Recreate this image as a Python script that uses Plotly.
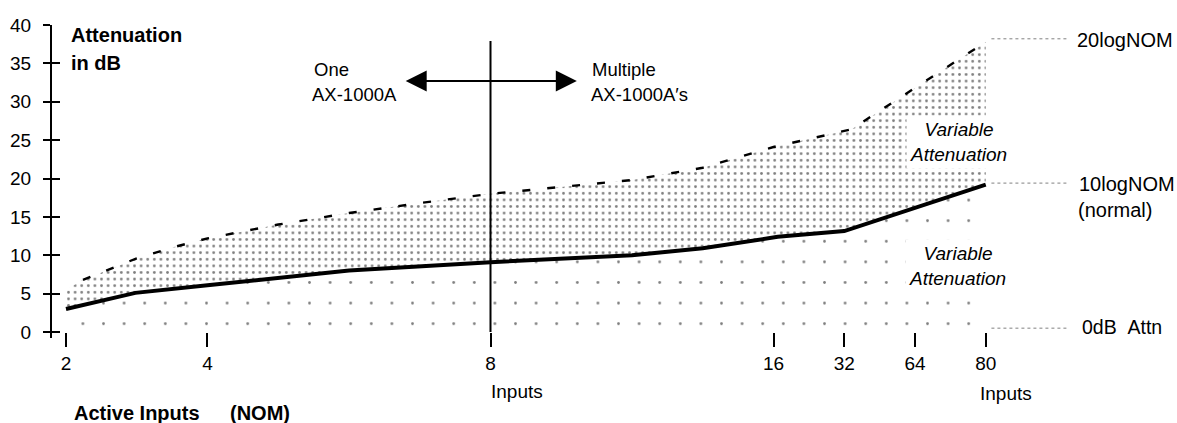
import plotly.graph_objects as go

# ---------------- data ----------------
input_ticks = [2, 4, 8, 16, 32, 64, 80]            # active inputs (NOM) tick labels
input_tick_pos = [0, 1, 3, 5, 5.5, 6, 6.5]         # where each sits on the drawn (piecewise) input axis
db_ticks = [0, 5, 10, 15, 20, 25, 30, 35, 40]

# 10logNOM (normal attenuation) curve: axis position, dB
normal_pos = [0, 0.49, 1.0, 2.0, 3.0, 4.0, 4.5, 5.03, 5.5, 6.5]
normal_db = [3.0, 5.1, 6.1, 8.0, 9.1, 10.0, 10.9, 12.4, 13.15, 19.2]

# 20logNOM (maximum attenuation) curve: axis position, dB
max_pos = [0, 0.12, 0.33, 0.5, 0.75, 1.0, 1.5, 2.0, 2.5, 3.0, 3.5, 4.0, 4.5, 5.0, 5.55, 6.0, 6.5]
max_db = [5.5, 6.8, 8.3, 9.6, 11.0, 12.2, 14.0, 15.5, 16.8, 18.0, 18.9, 19.8, 21.4, 24.1, 26.4, 31.8, 37.8]

# ---------------- layout constants ----------------
W, H = 1177, 423
ML, MR, MT, MB = 52, 0, 25, 85
X_RANGE = [-0.0989, 7.8516]
Y_RANGE = [-0.782, 40]
FONT = "Liberation Sans, Arial, Helvetica, sans-serif"
FS = 19

divider_x = input_tick_pos[input_ticks.index(8)]
end_x = input_tick_pos[-1]
LEADER_END = 7.08
LABEL_X = 7.14


def py(v):
    """dB value -> paper fraction (so annotations below the axis are still drawn)"""
    return (v - Y_RANGE[0]) / (Y_RANGE[1] - Y_RANGE[0])


fig = go.Figure()

# sparse dots: 0 dB .. 10logNOM
fig.add_trace(go.Scatter(
    x=normal_pos, y=normal_db, mode="lines", line=dict(width=0, color="black"),
    fill="tozeroy", fillcolor="rgba(0,0,0,0)",
    fillpattern=dict(shape=".", fgcolor="black", bgcolor="rgba(0,0,0,0)", size=20.6, solidity=0.014),
    hoverinfo="skip", showlegend=False))

# dense dots: 10logNOM .. 20logNOM
fig.add_trace(go.Scatter(
    x=max_pos, y=max_db, mode="lines", line=dict(width=0, color="black"),
    fill="tonexty", fillcolor="rgba(0,0,0,0)",
    fillpattern=dict(shape=".", fgcolor="black", bgcolor="rgba(0,0,0,0)", size=6.6, solidity=0.14),
    hoverinfo="skip", showlegend=False))

# 20logNOM dashed
fig.add_trace(go.Scatter(
    x=max_pos[1:], y=max_db[1:], mode="lines",
    line=dict(color="black", width=2.4, dash="8px,17px"),
    hoverinfo="skip", showlegend=False))

# 10logNOM solid
fig.add_trace(go.Scatter(
    x=normal_pos, y=normal_db, mode="lines",
    line=dict(color="black", width=4),
    hoverinfo="skip", showlegend=False))

# invisible trace to carry the inside-tick overlay axis
fig.add_trace(go.Scatter(x=[input_tick_pos[0]], y=[db_ticks[0]], yaxis="y2", mode="markers",
                         marker=dict(opacity=0), hoverinfo="skip", showlegend=False))

shapes = []
# divider at 8 inputs
shapes.append(dict(type="line", xref="x", yref="y", x0=divider_x, x1=divider_x, y0=0, y1=37.9,
                   line=dict(color="black", width=2), layer="above"))
# leader lines
leader = dict(color="#808080", width=1, dash="dot")
for yv in [max_db[-1] + 0.4, normal_db[-1] + 0.2, 0.5]:
    shapes.append(dict(type="line", xref="x", yref="y", x0=end_x + 0.04, x1=LEADER_END,
                       y0=yv, y1=yv, line=leader, layer="above"))

ann = []


def txt(t, x, y, size=FS, xanchor="left", bold=False, italic=False, bg=None, align="left"):
    s = t
    if bold:
        s = "<b>" + s + "</b>"
    if italic:
        s = "<i>" + s + "</i>"
    d = dict(text=s, x=x, y=py(y), xref="x", yref="paper", showarrow=False, xanchor=xanchor,
             yanchor="middle", align=align, font=dict(family=FONT, size=size, color="black"))
    if bg:
        d.update(bgcolor=bg, borderpad=3)
    ann.append(d)


txt("Attenuation", 0.02, 38.7, size=20, bold=True)
txt("in dB", 0.02, 35.05, size=20, bold=True)
txt("One", 1.739, 34.14, size=18.5)
txt("AX-1000A", 1.724, 31.0, size=18.5)
txt("Multiple", 3.703, 34.14, size=18.5)
txt("AX-1000A\u2032s", 3.696, 31.0, size=18.5)
txt("Variable<br>Attenuation", 6.31, 24.8, size=19, xanchor="center", italic=True, bg="white", align="center")
txt("Variable<br>Attenuation", 6.30, 8.6, size=19, xanchor="center", italic=True, bg="white", align="center")
txt("20logNOM", LABEL_X - 0.01, 38.05, size=20)
txt("10logNOM", LABEL_X + 0.005, 19.28, size=20)
txt("(normal)", LABEL_X, 15.9, size=20)
txt("0dB\u00a0\u00a0Attn", LABEL_X + 0.026, 0.65, size=19.5)
txt("Inputs", divider_x - 0.01, -7.69)
txt("Inputs", end_x - 0.055, -7.95)
txt("Active Inputs", 0.042, -10.55, size=20, bold=True)
txt("(NOM)", 1.145, -10.55, size=20, bold=True)

# double-headed arrow around the divider
ann.append(dict(x=divider_x + 0.61, y=32.7, ax=divider_x - 0.61, ay=32.7, xref="x", yref="y",
                axref="x", ayref="y", text="", showarrow=True, arrowside="end+start",
                arrowhead=2, startarrowhead=2, arrowsize=2.1, startarrowsize=2.1,
                arrowwidth=2, arrowcolor="black"))

fig.update_layout(
    width=W, height=H, margin=dict(l=ML, r=MR, t=MT, b=MB),
    paper_bgcolor="white", plot_bgcolor="white",
    font=dict(family=FONT, size=FS, color="black"),
    showlegend=False,
    shapes=shapes, annotations=ann,
    xaxis=dict(range=X_RANGE, anchor="free", position=py(0), showline=False, showgrid=False,
               zeroline=False, tickmode="array", tickvals=input_tick_pos,
               ticktext=[str(v) for v in input_ticks], ticks="outside", ticklen=14,
               tickwidth=1.5, tickcolor="black", tickfont=dict(size=19, family=FONT),
               ticklabelstandoff=0, fixedrange=True),
    yaxis=dict(range=Y_RANGE, showline=True, linewidth=2, linecolor="black", showgrid=False,
               zeroline=False, tickmode="array", tickvals=db_ticks, ticks="outside", ticklen=7,
               tickwidth=2, tickcolor="black", tickfont=dict(size=19, family=FONT),
               ticklabelstandoff=8, fixedrange=True),
    yaxis2=dict(range=Y_RANGE, overlaying="y", anchor="x", side="left", showline=False,
                showgrid=False, zeroline=False, tickmode="array", tickvals=db_ticks,
                ticks="inside", ticklen=8, tickwidth=2, tickcolor="black",
                showticklabels=False, fixedrange=True),
)

fig.write_html(
    "out.html",
    config={"displayModeBar": False},
    post_script="document.documentElement.style.margin='0';document.body.style.margin='0';"
                "document.body.style.overflow='hidden';",
)
